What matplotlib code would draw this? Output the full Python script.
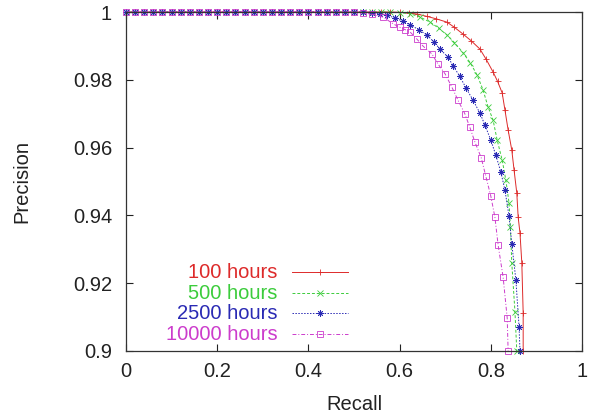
import matplotlib
matplotlib.use('Agg')
import matplotlib.pyplot as plt

plt.rcParams['font.family'] = ['Liberation Sans', 'DejaVu Sans']

# recall values where every curve still sits at precision 1
recall_flat = [0.0, 0.02, 0.04, 0.06, 0.08, 0.10, 0.12, 0.14, 0.16, 0.18,
               0.20, 0.22, 0.24, 0.26, 0.28, 0.30, 0.32, 0.34, 0.36, 0.38,
               0.40, 0.42, 0.44, 0.46, 0.48, 0.50]

# 100 hours
recall_100 = [0.52, 0.54, 0.56, 0.58, 0.60, 0.62, 0.638, 0.66, 0.68, 0.704,
              0.72, 0.739, 0.757, 0.776, 0.79, 0.805, 0.815, 0.825, 0.831,
              0.838, 0.846, 0.851, 0.857, 0.860, 0.864, 0.868, 0.871, 0.871]
prec_100 = [1.0, 1.0, 1.0, 1.0, 0.9999, 0.9997, 0.9994, 0.9987, 0.998, 0.997,
            0.9955, 0.9935, 0.9915, 0.9891, 0.986, 0.9823, 0.9795, 0.9761, 0.9711,
            0.9652, 0.9593, 0.9534, 0.9466, 0.9395, 0.9348, 0.926, 0.9112, 0.900]

# 500 hours
recall_500 = [0.52, 0.54, 0.56, 0.58, 0.60, 0.623, 0.645, 0.667, 0.686, 0.704,
              0.72, 0.739, 0.755, 0.770, 0.783, 0.794, 0.805, 0.814, 0.825,
              0.833, 0.840, 0.843, 0.846, 0.853, 0.857]
prec_500 = [1.0, 1.0, 1.0, 0.9999, 0.9998, 0.9995, 0.9985, 0.997, 0.9952, 0.9932,
            0.991, 0.988, 0.985, 0.9814, 0.977, 0.972, 0.9681, 0.9622, 0.9563,
            0.9504, 0.9437, 0.9366, 0.926, 0.9115, 0.900]

# 2500 hours
recall_2500 = [0.52, 0.54, 0.556, 0.572, 0.59, 0.607, 0.623, 0.642, 0.660, 0.675,
               0.689, 0.706, 0.718, 0.732, 0.746, 0.761, 0.776, 0.787, 0.800,
               0.811, 0.822, 0.831, 0.840, 0.846, 0.855, 0.862, 0.864]
prec_2500 = [1.0, 0.9998, 0.9995, 0.9991, 0.9982, 0.9973, 0.9962, 0.9948, 0.9932, 0.9912,
             0.989, 0.9867, 0.984, 0.981, 0.9775, 0.974, 0.9702, 0.9667, 0.9622,
             0.9578, 0.9528, 0.9475, 0.9398, 0.9316, 0.921, 0.907, 0.900]

# 10000 hours
recall_10000 = [0.52, 0.54, 0.564, 0.586, 0.60, 0.612, 0.623, 0.638, 0.651, 0.671,
                0.684, 0.700, 0.714, 0.728, 0.743, 0.754, 0.765, 0.779, 0.789,
                0.800, 0.809, 0.816, 0.827, 0.836, 0.838]
prec_10000 = [0.9998, 0.9993, 0.9985, 0.9965, 0.9955, 0.9948, 0.9941, 0.992, 0.990, 0.9876,
              0.9847, 0.9817, 0.978, 0.974, 0.970, 0.966, 0.9617, 0.957, 0.9516,
              0.9457, 0.9395, 0.9313, 0.9218, 0.9097, 0.900]

labels = ['100 hours', '500 hours', '2500 hours', '10000 hours']

series = [
    (recall_100, prec_100, '#dd2a2a', '-', '+', 'full'),
    (recall_500, prec_500, '#3ccc3c', (0, (3, 2)), 'x', 'full'),
    (recall_2500, prec_2500, '#2a2ab4', (0, (1.5, 1.5)), (8, 2, 0), 'full'),
    (recall_10000, prec_10000, '#cc3ccc', (0, (4, 2, 1, 2)), 's', 'none'),
]

fig = plt.figure(figsize=(6.05, 4.17), dpi=100)
ax = fig.add_axes([126 / 605, 1 - 351 / 417, 456 / 605, 339 / 417])

for (r, p, color, ls, mk, fs) in series:
    x = recall_flat + r
    y = [1.0] * len(recall_flat) + p
    ms = 4.5 if mk == 's' else 4.5
    ax.plot(x, y, color=color, linestyle=ls, linewidth=0.7, marker=mk,
            markersize=ms, fillstyle=fs, markeredgewidth=0.6, clip_on=False)

ax.set_xlim(0, 1)
ax.set_ylim(0.9, 1.0)
ax.set_xticks([0, 0.2, 0.4, 0.6, 0.8, 1])
ax.set_xticklabels(['0', '0.2', '0.4', '0.6', '0.8', '1'])
ax.set_yticks([0.9, 0.92, 0.94, 0.96, 0.98, 1.0])
ax.set_yticklabels(['0.9', '0.92', '0.94', '0.96', '0.98', '1'])
ax.tick_params(direction='in', length=5, width=0.8, top=True, right=True,
               labelsize=14.5, colors='#222222')
ax.tick_params(axis='y', pad=10)
ax.tick_params(axis='x', pad=8)
for s in ax.spines.values():
    s.set_linewidth(0.9)
    s.set_color('#333333')

ax.set_xlabel('Recall', fontsize=14.5, color='#222222', labelpad=10)
ax.set_ylabel('Precision', fontsize=14.5, color='#222222', labelpad=30)

# gnuplot style key: right aligned text, sample line on the right
key_y = [0.233, 0.171, 0.112, 0.050]
for (r, p, color, ls, mk, fs), lab, ky in zip(series, labels, key_y):
    ax.text(0.333, ky, lab, color=color, fontsize=14.5, ha='right', va='center',
            transform=ax.transAxes)
    ax.plot([0.364, 0.487], [ky, ky], color=color, linestyle=ls, linewidth=0.7,
            transform=ax.transAxes, clip_on=False)
    ax.plot([0.425], [ky], color=color, marker=mk, markersize=4.5, fillstyle=fs,
            markeredgewidth=0.6, transform=ax.transAxes, clip_on=False)

fig.savefig('out.png', dpi=100)
